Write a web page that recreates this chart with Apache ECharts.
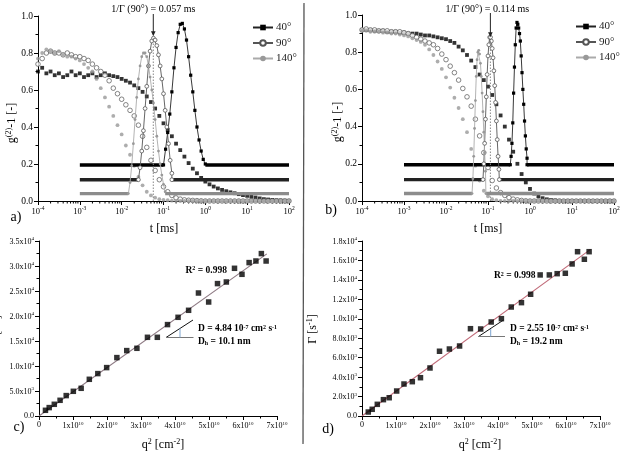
<!DOCTYPE html>
<html><head><meta charset="utf-8">
<script src="https://cdn.jsdelivr.net/npm/echarts@6/dist/echarts.min.js"></script>
<style>html,body{margin:0;padding:0;background:#fff}#c{width:623px;height:452px}</style>
</head><body><div id="c"></div><script>
// ---------- DATA ----------
// time grid exponents (t = 10^e ms) for the correlation functions
const tExp = [-4.0,-3.9,-3.8,-3.7,-3.6,-3.5,-3.4,-3.3,-3.2,-3.1,-3.0,-2.9,-2.8,-2.7,-2.6,-2.5,-2.4,-2.3,-2.2,-2.1,-2.0,-1.9,-1.8,-1.7,-1.6,-1.5,-1.4,-1.3,-1.2,-1.1,-1.0,-0.9,-0.8,-0.7,-0.6,-0.5,-0.4,-0.3,-0.2,-0.1,0.0,0.1,0.2,0.3,0.4,0.5,0.6,0.7,0.8,0.9,1.0,1.1,1.2,1.3,1.4,1.5,1.6,1.7,1.8,1.9,2.0];
// panel a: g2-1 decays
const decayA40 = [0.70,0.72,0.69,0.70,0.68,0.69,0.67,0.68,0.70,0.68, 0.69,0.67,0.68,0.69,0.67,0.68,0.69,0.68,0.675,0.67, 0.66,0.65,0.64,0.625,0.61,0.59,0.565,0.535,0.50,0.46, 0.42,0.385,0.35,0.31,0.275,0.24,0.205,0.175,0.15,0.125, 0.105,0.09,0.078,0.068,0.06,0.053,0.047,0.042,0.037,0.032, 0.028,0.023,0.019,0.014,0.01,0.008,0.006,0.004,0.003,0.002, 0.001];
const decayA90 = [0.74,0.77,0.80,0.81,0.80,0.80,0.79,0.80,0.79,0.78, 0.78,0.77,0.76,0.74,0.72,0.70,0.68,0.65,0.61,0.58, 0.55,0.52,0.49,0.46,0.41,0.35,0.29,0.22,0.165,0.115, 0.077,0.05,0.03,0.017,0.01,0.006,0.004,0.003,0.002,0.001, 0,0,0,0,0,0,0,0,0,0, 0,0,0,0,0,0,0,0,0,0, 0];
const decayA140 = [0.77,0.80,0.82,0.81,0.80,0.81,0.79,0.78,0.78,0.77, 0.76,0.74,0.72,0.70,0.66,0.61,0.56,0.51,0.46,0.41, 0.36,0.30,0.25,0.19,0.13,0.085,0.05,0.03,0.018,0.01, 0.006,0.004,0.002,0.001,0,0,0,0,0,0, 0,0,0,0,0,0,0,0,0,0, 0,0,0,0,0,0,0,0,0,0, 0];
// panel b: g2-1 decays
const decayB40 = [0.92,0.92,0.92,0.915,0.915,0.915,0.91,0.91,0.91,0.905, 0.905,0.90,0.90,0.90,0.895,0.89,0.89,0.885,0.88,0.875, 0.87,0.86,0.85,0.83,0.81,0.785,0.755,0.72,0.68,0.65, 0.615,0.57,0.52,0.46,0.40,0.33,0.265,0.20,0.145,0.10, 0.065,0.04,0.025,0.015,0.009,0.005,0.003,0.001,0,0, 0,0,0,0,0,0,0,0,0,0, 0];
const decayB90 = [0.92,0.925,0.92,0.92,0.915,0.915,0.915,0.91,0.91,0.91, 0.905,0.90,0.89,0.88,0.87,0.86,0.85,0.84,0.82,0.79, 0.76,0.725,0.69,0.65,0.605,0.56,0.51,0.44,0.35,0.26, 0.18,0.11,0.07,0.045,0.03,0.018,0.01,0.006,0.003,0.001, 0,0,0,0,0,0,0,0,0,0, 0,0,0,0,0,0,0,0,0,0, 0];
const decayB140 = [0.915,0.915,0.91,0.91,0.91,0.905,0.905,0.90,0.90,0.895, 0.89,0.885,0.875,0.865,0.855,0.84,0.815,0.785,0.75,0.71, 0.665,0.61,0.555,0.50,0.44,0.37,0.28,0.19,0.11,0.055, 0.025,0.01,0.004,0.001,0,0,0,0,0,0, 0,0,0,0,0,0,0,0,0,0, 0,0,0,0,0,0,0,0,0,0, 0];
// distributions (exponent of t, value incl. offset)
const baseLevels = [0.195, 0.115, 0.04];
const peakA40Exp = [-1.00,-0.95,-0.90,-0.85,-0.80,-0.75,-0.70,-0.65,-0.60,-0.55,-0.50,-0.45,-0.40,-0.35,-0.30,-0.25,-0.20,-0.15,-0.10,-0.05,0.00];
const peakA40Val = [0.195,0.28,0.37,0.47,0.59,0.72,0.83,0.91,0.955,0.96,0.93,0.87,0.78,0.68,0.59,0.49,0.40,0.33,0.27,0.225,0.20];
const peakA90Exp = [-1.60,-1.56,-1.52,-1.48,-1.44,-1.40,-1.36,-1.32,-1.28,-1.24,-1.20,-1.16,-1.12,-1.08,-1.04,-1.00,-0.96,-0.92,-0.88,-0.84,-0.80,-0.80];
const peakA90Val = [0.115,0.18,0.27,0.38,0.50,0.62,0.73,0.81,0.865,0.88,0.87,0.84,0.79,0.73,0.66,0.58,0.49,0.40,0.31,0.22,0.15,0.115];
const peakA140Exp = [-1.84,-1.80,-1.76,-1.72,-1.68,-1.64,-1.60,-1.56,-1.52,-1.48,-1.44,-1.40,-1.36,-1.32,-1.28,-1.24,-1.20,-1.16,-1.12,-1.08,-1.04,-1.00,-0.96];
const peakA140Val = [0.04,0.10,0.19,0.31,0.44,0.56,0.66,0.73,0.78,0.80,0.80,0.78,0.73,0.67,0.60,0.53,0.44,0.35,0.27,0.20,0.14,0.09,0.05];
const peakB40Exp = [-0.47,-0.45,-0.43,-0.41,-0.39,-0.37,-0.35,-0.33,-0.31,-0.29,-0.27,-0.25,-0.23,-0.21,-0.19,-0.17,-0.15,-0.13,-0.11,-0.09,-0.07,-0.07];
const peakB40Val = [0.195,0.24,0.31,0.42,0.58,0.72,0.84,0.93,0.96,0.95,0.93,0.90,0.86,0.78,0.69,0.60,0.52,0.43,0.35,0.28,0.23,0.195];
const peakB90Exp = [-1.12,-1.10,-1.08,-1.06,-1.04,-1.02,-1.00,-0.98,-0.96,-0.94,-0.92,-0.90,-0.88,-0.86,-0.84,-0.82,-0.80,-0.78,-0.76,-0.74,-0.73];
const peakB90Val = [0.115,0.20,0.31,0.44,0.56,0.68,0.78,0.84,0.88,0.88,0.86,0.82,0.77,0.70,0.62,0.53,0.43,0.33,0.24,0.17,0.115];
const peakB140Exp = [-1.38,-1.36,-1.34,-1.32,-1.30,-1.28,-1.26,-1.24,-1.22,-1.20,-1.18,-1.16,-1.14,-1.12,-1.10,-1.08,-1.06,-1.05];
const peakB140Val = [0.04,0.12,0.24,0.39,0.54,0.67,0.76,0.80,0.81,0.79,0.74,0.67,0.58,0.48,0.37,0.26,0.16,0.04];
const tauA = 0.057, tauTopA = 0.88;
const tauB = 0.114, tauTopB = 0.87;
const legendNames = ['40°','90°','140°'];
// panel c / d : Gamma vs q^2
const qC = [0.19,0.30,0.45,0.62,0.80,1.01,1.24,1.48,1.73,1.99,2.29,2.58,2.88,3.19,3.48,3.78,4.09,4.40,4.69,4.99,5.25,5.51,5.75,5.97,6.18,6.38,6.54,6.68];
const gammaC = [1140,1680,2340,3140,4080,4940,5540,7340,8480,9680,11680,13080,13540,15740,15740,18280,19740,21140,24600,22800,26480,26800,29540,28340,30680,31000,32480,31000];
const fitC = [[0,0],[6.7,32430]];
const qD = [0.185,0.30,0.45,0.63,0.80,1.02,1.235,1.48,1.72,2.0,2.28,2.57,2.87,3.19,3.49,3.80,4.10,4.39,4.69,4.96,5.24,5.51,5.74,5.98,6.18,6.34,6.54,6.68];
const gammaD = [410,690,1200,1680,1880,2570,3290,3530,3940,4940,6660,6890,7200,8980,8950,9670,10010,11210,11660,12520,14510,14510,14640,14680,15640,16900,16120,16900];
const fitD = [[0,0],[6.72,17140]];
const qUnit = 1e10;

// ---------- CHART ----------
const F = 'Liberation Serif';
const chart = echarts.init(document.getElementById('c'));
function R(bs, ss, bold) {
  const fw = bold ? 'bold' : 'normal';
  return {
    b: {fontFamily: F, fontSize: bs, fontWeight: fw, color: '#000', verticalAlign: 'bottom'},
    s: {fontFamily: F, fontSize: ss, fontWeight: fw, color: '#000', verticalAlign: 'top', padding: [0, 0, Math.round(bs * 0.45), 0]},
    t: {fontFamily: F, fontSize: bs, fontWeight: fw, color: '#000', verticalAlign: 'top'},
    u: {fontFamily: F, fontSize: ss, fontWeight: fw, color: '#000', verticalAlign: 'bottom', padding: [Math.round(bs * 0.45), 0, 0, 0]}
  };
}
const logFmt = v => '{b|10}{s|' + Math.round(Math.log10(v)) + '}';
const qFmt = v => v === 0 ? '{b|0}' : '{b|' + Math.round(v / qUnit) + 'x10}{s|10}';
const gFmt = v => {
  if (v === 0) return '{b|0.0}';
  const e = Math.floor(Math.log10(v) + 1e-9);
  return '{b|' + (v / Math.pow(10, e)).toFixed(1) + 'x10}{s|' + e + '}';
};
const axisCommon = {
  axisLine: {show: true, onZero: false, lineStyle: {color: '#000', width: 1}},
  axisTick: {show: true, length: 4, lineStyle: {color: '#000', width: 1}},
  splitLine: {show: false}
};
const minorT = {show: true, splitNumber: 2, length: 2.5, lineStyle: {color: '#000', width: 1}};

function logX(gi) {
  return Object.assign({gridIndex: gi, type: 'log', logBase: 10, min: 1e-4, max: 100,
    axisLabel: {margin: 5, formatter: logFmt, rich: R(8.5, 5.5)}}, axisCommon);
}
function gY(gi) {
  return Object.assign({gridIndex: gi, type: 'value', min: 0, max: 1, interval: 0.2, minorTick: minorT,
    axisLabel: {margin: 5, formatter: v => v.toFixed(1), fontFamily: F, fontSize: 9.5, color: '#000'}}, axisCommon);
}
function qX(gi) {
  return Object.assign({gridIndex: gi, type: 'value', min: 0, max: 7e10, interval: 1e10, minorTick: minorT,
    axisLabel: {margin: 5, formatter: qFmt, rich: R(8, 5)}}, axisCommon);
}
function gamY(gi, max, iv) {
  return Object.assign({gridIndex: gi, type: 'value', min: 0, max: max, interval: iv, minorTick: minorT,
    axisLabel: {margin: 5, formatter: gFmt, rich: R(8, 5)}}, axisCommon);
}

const C40 = '#000', C90 = '#444', C140 = '#999';
function decay(gi, vals, kind) {
  const s = {type: 'scatter', xAxisIndex: gi, yAxisIndex: gi, silent: true, z: 2,
    data: tExp.map((e, i) => [Math.pow(10, e), vals[i]])};
  if (kind === 40) { s.symbol = 'rect'; s.symbolSize = 3.8; s.itemStyle = {color: C40}; }
  if (kind === 90) { s.symbol = 'circle'; s.symbolSize = 4.6; s.itemStyle = {color: '#fff', borderColor: '#555', borderWidth: 0.9}; }
  if (kind === 140) { s.symbol = 'circle'; s.symbolSize = 3.8; s.itemStyle = {color: C140}; }
  return s;
}
function baseline(gi, level, exps, color) {
  const L = exps.length - 1;
  return {type: 'line', xAxisIndex: gi, yAxisIndex: gi, silent: true, z: 3, symbol: 'none',
    lineStyle: {color: color, width: 3.4},
    data: [[1e-3, level], [Math.pow(10, exps[0]), level], '-', [Math.pow(10, exps[L]), level], [100, level]]};
}
function peak(gi, name, exps, vals, kind) {
  const s = {type: 'line', name: name, xAxisIndex: gi, yAxisIndex: gi, silent: true, z: 4,
    showAllSymbol: true, data: exps.map((e, i) => [Math.pow(10, e), vals[i]])};
  if (kind === 40) { s.symbol = 'rect'; s.symbolSize = 3.2; s.itemStyle = {color: C40}; s.lineStyle = {color: '#222', width: 0.9}; }
  if (kind === 90) { s.symbol = 'circle'; s.symbolSize = 3.8; s.itemStyle = {color: '#fff', borderColor: '#555', borderWidth: 0.8}; s.lineStyle = {color: '#555', width: 0.9}; }
  if (kind === 140) { s.symbol = 'circle'; s.symbolSize = 2.8; s.itemStyle = {color: C140}; s.lineStyle = {color: '#aaa', width: 0.9}; }
  return s;
}
function dotted(gi, tau, top) {
  return {type: 'line', xAxisIndex: gi, yAxisIndex: gi, silent: true, z: 5, symbol: 'none',
    lineStyle: {color: '#888', width: 1, type: [1.5, 1.5]}, data: [[tau, 0], [tau, top]]};
}
// minor ticks of the log axes at 2..9 x 10^k
const minorLog = [];
for (let k = -4; k < 2; k++) for (let d = 2; d <= 9; d++) minorLog.push([d * Math.pow(10, k), 0]);
function minorTicks(gi) {
  return {type: 'custom', xAxisIndex: gi, yAxisIndex: gi, silent: true, clip: false, data: minorLog,
    renderItem: (p, api) => {
      const c = api.coord([api.value(0), 0]);
      return {type: 'line', shape: {x1: c[0], y1: c[1], x2: c[0], y2: c[1] + 2.5}, style: {stroke: '#000', lineWidth: 1}};
    }};
}
function gScatter(gi, q, g) {
  return {type: 'scatter', xAxisIndex: gi, yAxisIndex: gi, silent: true, symbol: 'rect', symbolSize: 5.5,
    itemStyle: {color: '#000'}, z: 3, data: q.map((v, i) => [v * qUnit, g[i]])};
}
function fit(gi, pts, color) {
  return {type: 'line', xAxisIndex: gi, yAxisIndex: gi, silent: true, symbol: 'none', z: 2,
    lineStyle: {color: color, width: 1.1}, data: pts.map(p => [p[0] * qUnit, p[1]])};
}

const legendCommon = {orient: 'vertical', itemWidth: 20, itemHeight: 7, itemGap: 4.5, data: legendNames,
  textStyle: {fontFamily: F, fontSize: 11, color: '#222', padding: [0, 0, 0, -2]}, selectedMode: false};

const option = {
  animation: false,
  backgroundColor: '#fff',
  grid: [
    {left: 38, top: 16, width: 251, height: 185},
    {left: 362, top: 15, width: 252, height: 186},
    {left: 39, top: 241, width: 238, height: 175},
    {left: 362, top: 241, width: 238, height: 175}
  ],
  xAxis: [logX(0), logX(1), qX(2), qX(3)],
  yAxis: [gY(0), gY(1), gamY(2, 35000, 5000), gamY(3, 18000, 2000)],
  legend: [
    Object.assign({left: 247, top: 17}, legendCommon),
    Object.assign({left: 570, top: 16}, legendCommon)
  ],
  series: [
    decay(0, decayA40, 40), decay(0, decayA90, 90), decay(0, decayA140, 140),
    baseline(0, baseLevels[0], peakA40Exp, '#000'), baseline(0, baseLevels[1], peakA90Exp, '#222'), baseline(0, baseLevels[2], peakA140Exp, '#8c8c8c'),
    peak(0, '40°', peakA40Exp, peakA40Val, 40), peak(0, '90°', peakA90Exp, peakA90Val, 90), peak(0, '140°', peakA140Exp, peakA140Val, 140),
    dotted(0, tauA, tauTopA), minorTicks(0),
    decay(1, decayB40, 40), decay(1, decayB90, 90), decay(1, decayB140, 140),
    baseline(1, baseLevels[0], peakB40Exp, '#000'), baseline(1, baseLevels[1], peakB90Exp, '#222'), baseline(1, baseLevels[2], peakB140Exp, '#8c8c8c'),
    peak(1, '40°', peakB40Exp, peakB40Val, 40), peak(1, '90°', peakB90Exp, peakB90Val, 90), peak(1, '140°', peakB140Exp, peakB140Val, 140),
    dotted(1, tauB, tauTopB), minorTicks(1),
    fit(2, fitC, '#8e7a84'), gScatter(2, qC, gammaC),
    fit(3, fitD, '#c06a78'), gScatter(3, qD, gammaD)
  ]
};
chart.setOption(option);

// ---------- ANNOTATIONS ----------
function txt(x, y, text, size, opts) {
  return Object.assign({type: 'text', silent: true, z: 50, style: Object.assign({
    text: text, x: x, y: y, fontFamily: F, fontSize: size, fill: '#000', align: 'center', verticalAlign: 'middle'}, opts || {})});
}
function arrow(x, y1, y2) {
  return [
    {type: 'line', silent: true, z: 50, shape: {x1: x, y1: y1, x2: x, y2: y2 - 3}, style: {stroke: '#222', lineWidth: 1}},
    {type: 'polygon', silent: true, z: 50, shape: {points: [[x - 2.3, y2 - 5], [x + 2.3, y2 - 5], [x, y2]]}, style: {fill: '#222'}}
  ];
}
const pA = chart.convertToPixel({xAxisIndex: 0, yAxisIndex: 0}, [tauA, tauTopA]);
const pB = chart.convertToPixel({xAxisIndex: 1, yAxisIndex: 1}, [tauB, tauTopB]);
const ytitle = '{b|g}{s|(2)}{b|-1 [-]}';
const gfx = [
  {type: 'line', silent: true, shape: {x1: 304, y1: 3, x2: 303, y2: 444}, style: {stroke: '#555', lineWidth: 1.3}},
  txt(pA[0], 9, '1/Γ (90°) = 0.057 ms', 10),
  txt(pB[0] - 3, 9, '1/Γ (90°) = 0.114 ms', 10),
  ...arrow(pA[0], 14, pA[1] - 2),
  ...arrow(pB[0], 13, pB[1] - 2),
  txt(16, 217, 'a)', 14), txt(331, 210, 'b)', 14), txt(19, 427, 'c)', 14), txt(328, 429, 'd)', 14),
  txt(164, 229, 't [ms]', 12), txt(488, 229, 't [ms]', 12),
  txt(163, 444, '{b|q}{s|2}{b| [cm}{s|-2}{b|]}', 12, {rich: R(12, 8)}),
  txt(480, 444, '{b|q}{s|2}{b| [cm}{s|-2}{b|]}', 12, {rich: R(12, 8)}),
  Object.assign(txt(0, 0, ytitle, 12, {rich: R(12, 8)}), {x: 11, y: 123, rotation: Math.PI / 2}),
  Object.assign(txt(0, 0, ytitle, 12, {rich: R(12, 8)}), {x: 337, y: 122, rotation: Math.PI / 2}),
  Object.assign(txt(0, 0, '{b|Γ [s}{s|-1}{b|]}', 12, {rich: R(12, 8)}), {x: 312, y: 329, rotation: Math.PI / 2}),
  Object.assign(txt(0, 0, '{b|Γ [s}{s|-1}{b|]}', 12, {rich: R(12, 8)}), {x: -4, y: 330, rotation: Math.PI / 2}),
  // panel c annotations
  txt(185.5, 270.5, '{b|R}{s|2}{b| = 0.998}', 9.5, {rich: R(9.5, 6, true), align: 'left'}),
  {type: 'line', silent: true, z: 40, shape: {x1: 166, y1: 337.5, x2: 193, y2: 320}, style: {stroke: '#111', lineWidth: 1}},
  {type: 'line', silent: true, z: 40, shape: {x1: 166, y1: 337.5, x2: 193.5, y2: 337.5}, style: {stroke: '#777', lineWidth: 1}},
  {type: 'line', silent: true, z: 40, shape: {x1: 180, y1: 328.5, x2: 180, y2: 337.5}, style: {stroke: '#7ea6d0', lineWidth: 1}},
  txt(198, 329, '{b|D = 4.84 10}{s|-7}{b| cm}{s|2}{b| s}{s|-1}', 9.5, {rich: R(9.5, 6, true), align: 'left'}),
  txt(198, 341.5, '{t|D}{u|h}{t| = 10.1 nm}', 9.5, {rich: R(9.5, 6, true), align: 'left'}),
  // panel d annotations
  txt(494, 276, '{b|R}{s|2}{b| = 0.998}', 9.5, {rich: R(9.5, 6, true), align: 'left'}),
  {type: 'line', silent: true, z: 40, shape: {x1: 478.5, y1: 336.5, x2: 503.5, y2: 320}, style: {stroke: '#111', lineWidth: 1}},
  {type: 'line', silent: true, z: 40, shape: {x1: 478.5, y1: 336.5, x2: 505, y2: 336.5}, style: {stroke: '#777', lineWidth: 1}},
  {type: 'line', silent: true, z: 40, shape: {x1: 490.7, y1: 329, x2: 490.7, y2: 336.5}, style: {stroke: '#7ea6d0', lineWidth: 1}},
  txt(510, 329, '{b|D = 2.55 10}{s|-7}{b| cm}{s|2}{b| s}{s|-1}', 9.5, {rich: R(9.5, 6, true), align: 'left'}),
  txt(510, 341.5, '{t|D}{u|h}{t| = 19.2 nm}', 9.5, {rich: R(9.5, 6, true), align: 'left'})
];
chart.setOption({graphic: {elements: gfx}});
</script></body></html>
